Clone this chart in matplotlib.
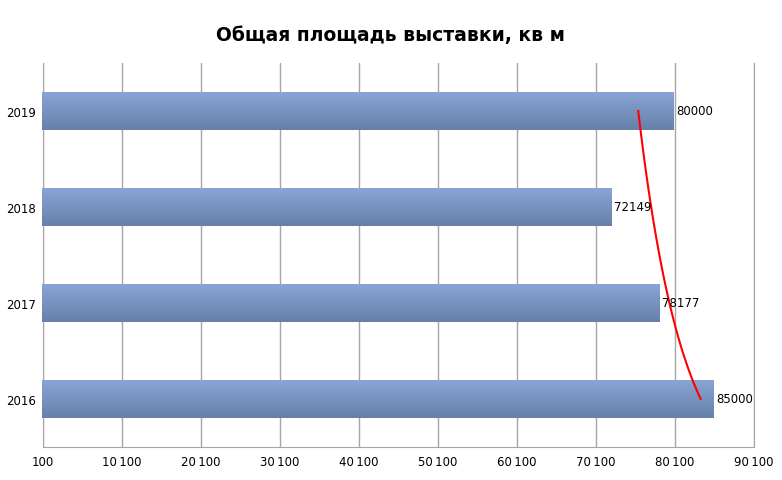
import numpy as np
import matplotlib.pyplot as plt
from matplotlib.ticker import FuncFormatter
from matplotlib.colors import LinearSegmentedColormap

years = ['2016', '2017', '2018', '2019']
area = [85000, 78177, 72149, 80000]
x_ticks = np.arange(100, 90101, 10000)

plt.rcParams['font.family'] = ['DejaVu Sans']

fig = plt.figure(figsize=(7.82, 4.81), dpi=100)
ax = fig.add_axes([0.055, 0.069, 0.909, 0.798])

pos = np.arange(len(years))
bars = ax.barh(pos, area, height=0.4, left=0, color='#7a93c0', zorder=2)

# vertical gradient on each bar
grad = np.linspace(0, 1, 100).reshape(-1, 1)
cmap = LinearSegmentedColormap.from_list('bar', ['#8aa6d6', '#6680a8'])
for b in bars:
    x0, y0 = b.get_x(), b.get_y()
    w, h = b.get_width(), b.get_height()
    im = ax.imshow(grad, cmap=cmap, aspect='auto', extent=[x0, x0 + w, y0, y0 + h],
                   origin='upper', zorder=3)
    im.set_clip_path(b)
    b.set_facecolor('none')

for p, v in zip(pos, area):
    ax.text(v + 300, p, str(v), va='center', ha='left', fontsize=8.5, zorder=5)

# logarithmic trend line
xi = pos + 1
a, c = np.polyfit(np.log(xi), area, 1)
xs = np.linspace(1, len(years), 100)
ax.plot(a * np.log(xs) + c, xs - 1, color='red', lw=1.5, zorder=4)

ax.set_xlim(100, 90100)
ax.set_ylim(-0.5, len(years) - 0.5)
ax.set_xticks(x_ticks)
ax.xaxis.set_major_formatter(FuncFormatter(lambda v, _: '{:,}'.format(int(v)).replace(',', '\u2009')))
ax.set_yticks(pos)
ax.set_yticklabels(years)
ax.tick_params(axis='both', length=0, labelsize=8.5, pad=6)
ax.tick_params(axis='y', pad=5)

ax.grid(axis='x', color='#a6a6a6', lw=1, zorder=0)
ax.set_axisbelow(True)
ax.spines['top'].set_visible(False)
for s in ['left', 'bottom', 'right']:
    ax.spines[s].set_color('#a6a6a6')

fig.text(0.5, 0.927, 'Общая площадь выставки, кв м', ha='center', va='center',
         fontsize=13.5, fontweight='bold')

fig.savefig('out.png', dpi=100)
